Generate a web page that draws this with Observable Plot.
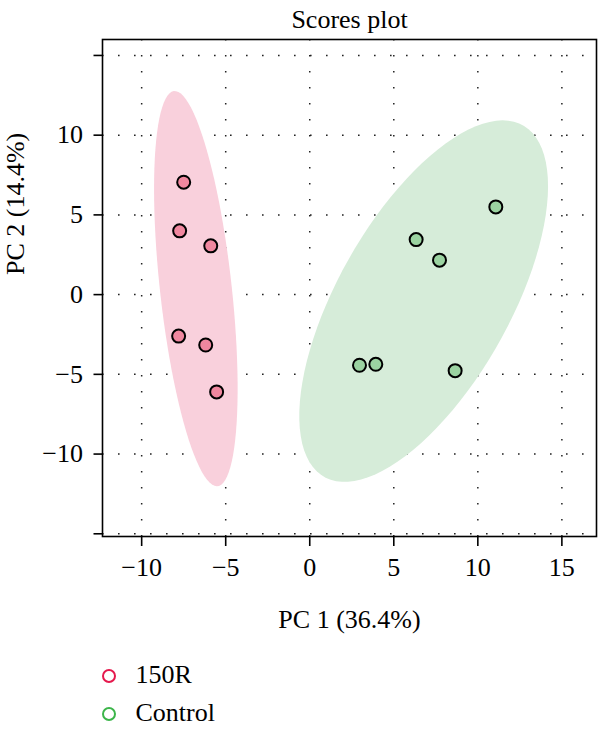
<!DOCTYPE html>
<html>
<head>
<meta charset="utf-8">
<script src="https://cdn.jsdelivr.net/npm/d3@7"></script>
<script src="https://cdn.jsdelivr.net/npm/@observablehq/plot@0.6"></script>
<style>
  html, body { margin: 0; padding: 0; background: #fff; }
  #chart svg { display: block; }
</style>
</head>
<body>
<div id="chart"></div>
<script>
// ---- data ----
const groups = ["150R", "Control"];
const pc1_150R = [-7.5, -7.74, -5.89, -7.8, -6.19, -5.54];
const pc2_150R = [7.05, 4.0, 3.06, -2.6, -3.16, -6.1];
const pc1_Control = [11.07, 6.33, 7.72, 2.96, 3.93, 8.65];
const pc2_Control = [5.5, 3.45, 2.16, -4.43, -4.37, -4.77];

const xTicks = [-10, -5, 0, 5, 10, 15];
const xTickLabels = ["−10", "−5", "0", "5", "10", "15"];
const yTicks = [-15, -10, -5, 0, 5, 10, 15];
const yTickLabels = ["", "−10", "−5", "0", "5", "10", ""];

const titleText = "Scores plot";
const xTitle = "PC 1 (36.4%)";
const yTitle = "PC 2 (14.4%)";

const ellipseFill = {"150R": "#f9d0dc", "Control": "#d6ecd9"};
const pointFill = {"150R": "#f0879f", "Control": "#9bd3a1"};
const legendStroke = {"150R": "#e5194d", "Control": "#3cb54a"};

// ---- build tables ----
const series = {
  "150R": {x: pc1_150R, y: pc2_150R},
  "Control": {x: pc1_Control, y: pc2_Control}
};
const points = groups.flatMap(g => series[g].x.map((x, i) => ({group: g, x, y: series[g].y[i]})));

// 95% confidence ellipse (as in R's ellipse::ellipse with level = 0.95)
function confEllipse(xs, ys, level = 0.95, n = 100) {
  const mx = d3.mean(xs), my = d3.mean(ys);
  const sx = d3.deviation(xs), sy = d3.deviation(ys);
  let cov = 0;
  for (let i = 0; i < xs.length; i++) cov += (xs[i] - mx) * (ys[i] - my);
  cov /= (xs.length - 1);
  const r = cov / (sx * sy);
  const t = Math.sqrt(-2 * Math.log(1 - level)); // sqrt(qchisq(level, 2))
  const d = Math.acos(r);
  const out = [];
  for (let k = 0; k < n; k++) {
    const a = 2 * Math.PI * k / (n - 1);
    out.push({x: t * sx * Math.cos(a + d / 2) + mx, y: t * sy * Math.cos(a - d / 2) + my});
  }
  return out;
}
const ellipses = Object.fromEntries(groups.map(g => [g, confEllipse(series[g].x, series[g].y)]));

const fontFamily = "'Liberation Serif', 'DejaVu Serif', serif";
const fs = 26;

const chart = Plot.plot({
  width: 600,
  height: 732,
  marginTop: 39,
  marginLeft: 102,
  marginRight: 4,
  marginBottom: 196,
  style: {fontFamily, fontSize: fs + "px", background: "#fff", color: "#000"},
  x: {domain: [-12.33, 17.06]},
  y: {domain: [-15.17, 16.0]},
  marks: [
    Plot.gridX(xTicks, {stroke: "#222", strokeOpacity: 1, strokeWidth: 1.5, strokeDasharray: "1.6,14.4"}),
    Plot.gridY(yTicks, {stroke: "#222", strokeOpacity: 1, strokeWidth: 1.5, strokeDasharray: "1.6,14.4"}),
    ...groups.map(g => Plot.line(ellipses[g], {x: "x", y: "y", fill: ellipseFill[g], stroke: null, curve: "linear-closed"})),
    ...groups.map(g => Plot.dot(points.filter(p => p.group === g), {x: "x", y: "y", r: 6.5, fill: pointFill[g], stroke: "#000", strokeWidth: 2})),
    Plot.axisX({ticks: xTicks, tickFormat: d => xTickLabels[xTicks.indexOf(d)], tickSize: 10, tickPadding: 11, strokeWidth: 1.6, label: null, fontSize: fs}),
    Plot.axisY({ticks: yTicks, tickFormat: d => yTickLabels[yTicks.indexOf(d)], tickSize: 8.5, tickPadding: 11, strokeWidth: 1.6, label: null, fontSize: fs}),
    Plot.frame({stroke: "#000", strokeWidth: 1.6}),
    Plot.text([titleText], {frameAnchor: "top", dy: -12, lineAnchor: "bottom", fontSize: fs, fill: "#000"}),
    Plot.text([xTitle], {frameAnchor: "bottom", dy: 91, lineAnchor: "bottom", fontSize: fs, fill: "#000"}),
    Plot.text([yTitle], {frameAnchor: "left", dx: -79, dy: -13, rotate: -90, lineAnchor: "bottom", fontSize: fs, fill: "#000"}),
    ...groups.map((g, i) => Plot.dot([g], {frameAnchor: "bottom-left", dx: 6.5, dy: 139.5 + 38 * i, r: 6, fill: "none", stroke: legendStroke[g], strokeWidth: 2})),
    ...groups.map((g, i) => Plot.text([g], {frameAnchor: "bottom-left", dx: 33, dy: 146 + 38 * i, lineAnchor: "bottom", textAnchor: "start", fontSize: fs, fill: "#000"}))
  ]
});
document.getElementById("chart").append(chart);
</script>
</body>
</html>
